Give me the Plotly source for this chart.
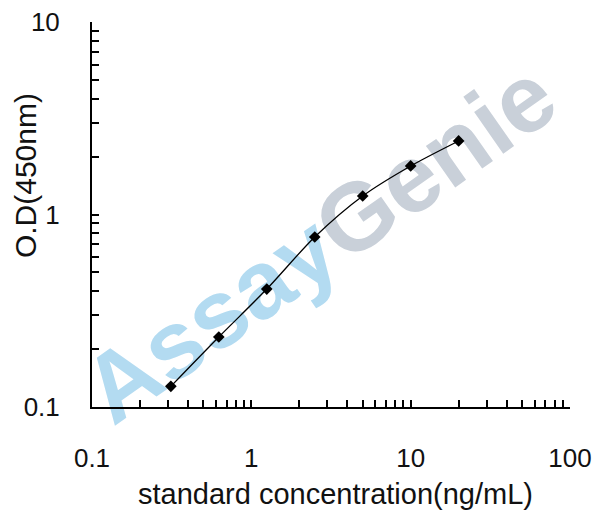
import plotly.graph_objects as go

# Data
concentration = [0.3125, 0.625, 1.25, 2.5, 5, 10, 20]
od_450 = [0.128, 0.231, 0.41, 0.764, 1.248, 1.787, 2.41]

x_major = [0.1, 1, 10, 100]
x_major_labels = ["0.1", "1", "10", "100"]
y_major = [0.1, 1, 10]
y_major_labels = ["0.1", "1", "10"]

x_title = "standard concentration(ng/mL)"
y_title = "O.D(450nm)"
watermark_a = "Assay"
watermark_b = "Genie"

FONT = "Arial, 'Liberation Sans', sans-serif"

def ticks_for(majors, labels):
    vals, texts = [], []
    lab = dict(zip(majors, labels))
    for i, m in enumerate(majors):
        vals.append(m)
        texts.append(lab[m])
        if i < len(majors) - 1:
            for k in range(2, 10):
                vals.append(m * k)
                texts.append("")
    return vals, texts

xv, xt = ticks_for(x_major, x_major_labels)
yv, yt = ticks_for(y_major, y_major_labels)

fig = go.Figure()
fig.add_trace(go.Scatter(
    x=concentration, y=od_450, mode="lines+markers",
    line=dict(color="black", width=1.3, shape="spline", smoothing=0.8),
    marker=dict(symbol="diamond", size=9, color="black"),
    showlegend=False,
))

fig.add_shape(
    type="rect", xref="paper", yref="paper",
    x0=0.164, x1=0.764, y0=0.248, y1=0.648,
    line=dict(width=0), fillcolor="rgba(0,0,0,0)", layer="below",
    label=dict(
        text=f"<b><span style='color:#b3dbf1'>{watermark_a}</span>"
             f"<span style='color:#c9d0d9'>{watermark_b}</span></b>",
        textangle=-35, textposition="middle center",
        font=dict(size=96, family=FONT, color="#c9d0d9"),
    ),
)

fig.update_layout(
    width=608, height=516,
    margin=dict(l=92, r=38, t=22, b=109, autoexpand=False),
    paper_bgcolor="white", plot_bgcolor="white",
    font=dict(family=FONT, color="#111111"),
    xaxis=dict(
        type="log", range=[-1, 2], automargin=False,
        tickmode="array", tickvals=xv, ticktext=xt,
        ticks="inside", ticklen=7, tickwidth=1.5, tickcolor="black",
        showline=True, linecolor="black", linewidth=2,
        showgrid=False, zeroline=False,
        tickfont=dict(size=26, family=FONT, color="#111111"),
        ticklabelstandoff=27,
    ),
    yaxis=dict(
        type="log", range=[-1, 1], automargin=False,
        tickmode="array", tickvals=yv, ticktext=yt,
        ticks="inside", ticklen=7, tickwidth=1.5, tickcolor="black",
        showline=True, linecolor="black", linewidth=2,
        showgrid=False, zeroline=False,
        tickfont=dict(size=26, family=FONT, color="#111111"),
        ticklabelstandoff=25,
    ),
    annotations=[
        dict(
            text=x_title, xref="paper", yref="paper",
            x=0.51, y=-0.225, showarrow=False,
            font=dict(size=29, family=FONT, color="#111111"),
            xanchor="center", yanchor="middle",
        ),
        dict(
            text=y_title, xref="paper", yref="paper",
            x=-0.14, y=0.6, showarrow=False, textangle=-90,
            font=dict(size=30, family=FONT, color="#111111"),
            xanchor="center", yanchor="middle",
        ),
    ],
)

fig.write_html("out.html", config={"displayModeBar": False},
               post_script="document.body.style.margin='0';")
